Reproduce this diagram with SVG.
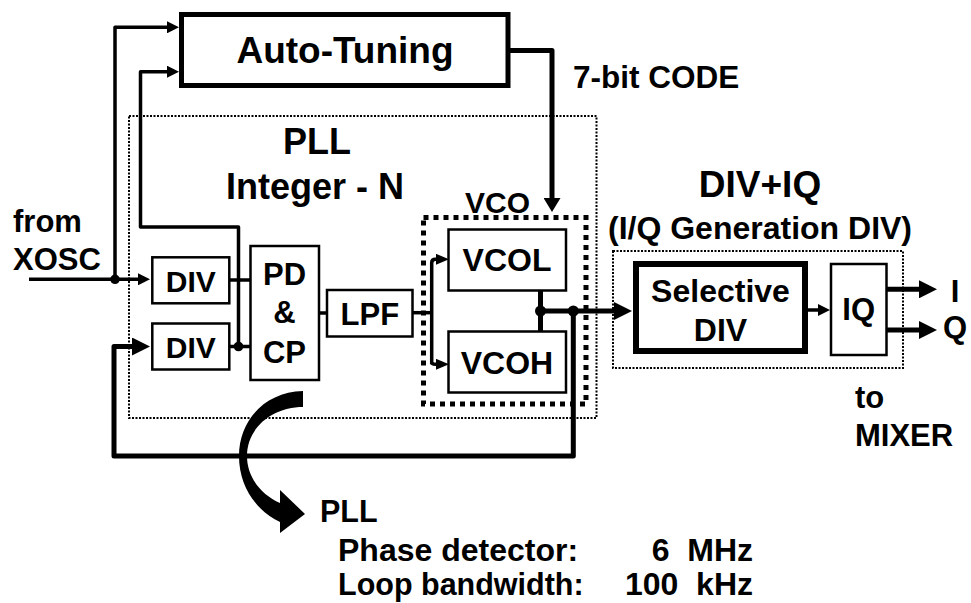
<svg xmlns="http://www.w3.org/2000/svg" width="971" height="603" viewBox="0 0 971 603">
<style>
text{font-family:"Liberation Sans",Arial,sans-serif;font-weight:bold;fill:#000}
.box{fill:#fff;stroke:#000;stroke-width:2.5}
.dotted{fill:none;stroke:#000;stroke-width:2;stroke-dasharray:2 1.5}
.sq{fill:none;stroke:#000;stroke-width:5;stroke-dasharray:5 5}
.w{fill:none;stroke:#000;stroke-linejoin:round}
.t3{stroke-width:3.5}
.t5{stroke-width:5}
.m{text-anchor:middle}
.e{text-anchor:end}
</style>
<defs>
<marker id="ahS" markerUnits="userSpaceOnUse" markerWidth="13" markerHeight="11" refX="6" refY="5.5" orient="auto"><path d="M0,0 L13,5.5 L0,11 Z"/></marker>
<marker id="ahM" markerUnits="userSpaceOnUse" markerWidth="12" markerHeight="12" refX="6" refY="6" orient="auto"><path d="M0,0 L12,6 L0,12 Z"/></marker>
<marker id="ahL" markerUnits="userSpaceOnUse" markerWidth="18" markerHeight="18" refX="9" refY="9" orient="auto"><path d="M0,0 L18,9 L0,18 Z"/></marker>
<marker id="ahC" markerUnits="userSpaceOnUse" markerWidth="14" markerHeight="17" refX="7" refY="8.5" orient="auto"><path d="M0,0 L14,8.5 L0,17 Z"/></marker>
</defs>

<g id="pll-region">
<rect class="dotted" x="129" y="116" width="467.5" height="302"/>
<text class="m" x="317" y="154" font-size="36">PLL</text>
<text class="m" x="315" y="199" font-size="36">Integer - N</text>
</g>

<g id="vco-region">
<rect class="sq" x="423.5" y="217.5" width="162.5" height="186.5"/>
<text x="465" y="213" font-size="30">VCO</text>
</g>

<g id="diviq-region">
<rect class="dotted" x="613" y="251" width="290" height="117"/>
<text class="m" x="760" y="197" font-size="37">DIV+IQ</text>
<text class="m" x="760" y="239" font-size="32">(I/Q Generation DIV)</text>
</g>

<g id="connectors">
<path class="w t3" d="M29,279.3 H144" marker-end="url(#ahM)"/>
<path class="w t3" d="M115,279.3 V27.3 H173" marker-end="url(#ahM)"/>
<path class="w t3" d="M238.5,346.5 V227 H140.5 V71.7 H173" marker-end="url(#ahM)"/>
<path class="w t3" d="M230,280 H250"/>
<path class="w t3" d="M230,346.5 H250"/>
<path class="w t3" d="M319,313 H327"/>
<path class="w t3" d="M413,312.7 H431.7"/>
<path class="w t3" d="M431.7,364.3 V263 Q431.7,259.3 435.5,259.3 H442" marker-end="url(#ahS)"/>
<path class="w t3" d="M431.7,362 Q431.7,364.3 435.5,364.3 H442" marker-end="url(#ahS)"/>
<path class="w t5" d="M508,50.5 H552 V205" marker-end="url(#ahC)"/>
<path class="w t5" d="M540.5,290 V332"/>
<path class="w t5" d="M540.5,311 H623" marker-end="url(#ahL)"/>
<path class="w t5" d="M573.3,311 V456 H114 V346.5 H141" marker-end="url(#ahL)"/>
<path class="w t3" d="M807,310 H824" marker-end="url(#ahM)"/>
<path class="w t5" d="M887,289.3 H928" marker-end="url(#ahL)"/>
<path class="w t5" d="M887,330 H928" marker-end="url(#ahL)"/>
<circle cx="115" cy="279.3" r="4.8"/>
<circle cx="238.5" cy="346.5" r="4.8"/>
<circle cx="540.5" cy="311" r="5.5"/>
<circle cx="573.3" cy="311" r="5.5"/>
</g>

<g id="auto-tuning">
<rect x="181.5" y="14.5" width="326.5" height="71" fill="#fff" stroke="#000" stroke-width="5"/>
<text class="m" x="345" y="63" font-size="37">Auto-Tuning</text>
</g>

<g id="div-ref">
<rect class="box" x="152.3" y="257.3" width="77" height="46"/>
<text class="m" x="190.8" y="292" font-size="30">DIV</text>
</g>

<g id="div-fb">
<rect class="box" x="152.3" y="323.5" width="77" height="46"/>
<text class="m" x="190.8" y="357.5" font-size="30">DIV</text>
</g>

<g id="pdcp">
<rect class="box" x="250.5" y="246" width="68.5" height="134"/>
<text class="m" x="284.5" y="285" font-size="31">PD</text>
<text class="m" x="284.5" y="323" font-size="31">&amp;</text>
<text class="m" x="284.5" y="363" font-size="31">CP</text>
</g>

<g id="lpf">
<rect class="box" x="327" y="290" width="85.5" height="46.5"/>
<text class="m" x="369.8" y="325" font-size="31">LPF</text>
</g>

<g id="vcol">
<rect class="box" x="448.5" y="229.5" width="117.5" height="61"/>
<text class="m" x="507" y="271" font-size="32">VCOL</text>
</g>

<g id="vcoh">
<rect class="box" x="448.5" y="331.5" width="117.5" height="61"/>
<text class="m" x="507" y="374" font-size="32">VCOH</text>
</g>

<g id="selective-div">
<rect x="636" y="264" width="169" height="87" fill="#fff" stroke="#000" stroke-width="6"/>
<text class="m" x="720.5" y="302" font-size="32">Selective</text>
<text class="m" x="720.5" y="341" font-size="32">DIV</text>
</g>

<g id="iq">
<rect class="box" x="831" y="264" width="55.5" height="91"/>
<text class="m" x="858.7" y="320" font-size="31">IQ</text>
</g>

<g id="labels">
<text x="13" y="232" font-size="31">from</text>
<text x="13" y="270" font-size="31">XOSC</text>
<text x="573" y="88" font-size="31.5">7-bit CODE</text>
<text class="m" x="955" y="302" font-size="31">I</text>
<text class="m" x="955" y="338" font-size="31">Q</text>
<text x="855" y="408" font-size="31">to</text>
<text x="855" y="446" font-size="31">MIXER</text>
</g>

<g id="pll-note">
<path d="M303,391 C265,392 239,420 239,456 C239,488 258,512 280,522 L280,533 L305,514 L280,490 L280,503 C262,495 247,478 247,456 C247,428 272,407 303,407 Z" fill="#000"/>
<text x="320" y="522" font-size="30.5">PLL</text>
<text x="338" y="561" font-size="32">Phase detector:</text>
<text x="338" y="595" font-size="30.5">Loop bandwidth:</text>
<text class="e" x="753" y="561" font-size="32" xml:space="preserve">6  MHz</text>
<text class="e" x="753" y="595" font-size="32" xml:space="preserve">100  kHz</text>
</g>
</svg>
